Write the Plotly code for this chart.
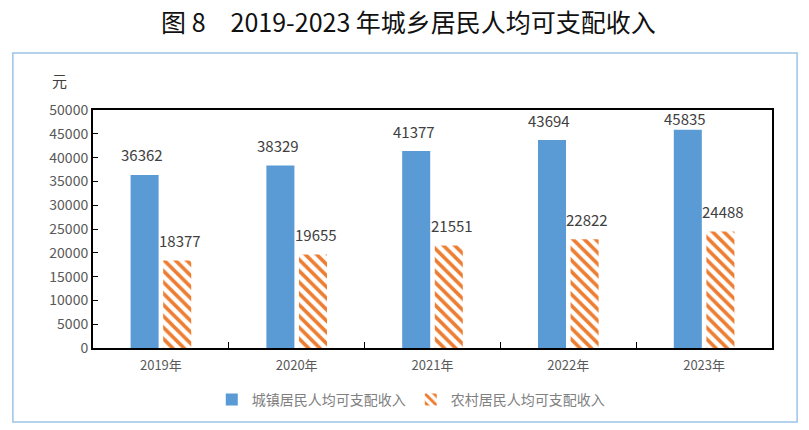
import plotly.graph_objects as go

# data
years = ["2019年", "2020年", "2021年", "2022年", "2023年"]
urban = [36362, 38329, 41377, 43694, 45835]
rural = [18377, 19655, 21551, 22822, 24488]
y_ticks = list(range(0, 50001, 5000))
y_max = 50000

blue = "#5B9BD5"
orange = "#ED7D31"
font_cn = "Noto Sans CJK SC"
plot_h = 238  # plot area height in px, used for label offsets

fig = go.Figure()

fig.add_trace(go.Bar(
    x=years, y=urban, name="城镇居民人均可支配收入",
    marker=dict(color=blue, line=dict(width=0)),
))
fig.add_trace(go.Bar(
    x=years, y=rural, name="农村居民人均可支配收入",
    marker=dict(color="white", line=dict(width=0),
                pattern=dict(shape="\\", fgcolor=orange, bgcolor="white",
                             fgopacity=1, size=8, solidity=0.45)),
))


def label_shift(v):
    # keep the label inside the plot frame, like the original
    room = (y_max - v) / y_max * plot_h
    return min(20, room - 8)


for i, yr in enumerate(years):
    fig.add_annotation(x=yr, y=urban[i], text=str(urban[i]), showarrow=False,
                       xshift=-19, yshift=label_shift(urban[i]),
                       font=dict(size=15, color="#404040"))
    fig.add_annotation(x=yr, y=rural[i], text=str(rural[i]), showarrow=False,
                       xshift=19, yshift=label_shift(rural[i]),
                       font=dict(size=15, color="#404040"))

# unit label
fig.add_annotation(xref="paper", yref="paper", x=-0.049, y=1.126, text="元",
                   xanchor="center", yanchor="middle",
                   showarrow=False, font=dict(size=15, color="#404040"))

# outer frame
fig.add_shape(type="rect", xref="paper", yref="paper",
              x0=-0.118, x1=1.037, y0=-0.311, y1=1.239,
              line=dict(color="#9DC3E6", width=1.5))

# page body adds 8px of margin, so the figure is a bit smaller than the window
fig.update_layout(
    width=801, height=422,
    margin=dict(l=85, r=37, t=102, b=82),
    paper_bgcolor="white", plot_bgcolor="white",
    barmode="group", bargap=0.52, bargroupgap=0.14,
    font=dict(family=font_cn, color="#595959"),
    title=dict(text="图 8　2019-2023 年城乡居民人均可支配收入",
               x=0.5, xanchor="center", y=0.965, yanchor="middle",
               font=dict(size=25, color="#111111", family=font_cn, weight="normal")),
    showlegend=True,
    legend=dict(orientation="h", x=0.468, xanchor="center", y=-0.218, yanchor="middle",
                font=dict(size=14, color="#808080"), itemwidth=30,
                bgcolor="rgba(0,0,0,0)"),
    xaxis=dict(showline=True, linecolor="black", linewidth=2, mirror=True,
               ticks="inside", tickson="boundaries", ticklen=6, tickcolor="black",
               ticklabelstandoff=4,
               tickfont=dict(size=13, color="#595959"), showgrid=False),
    yaxis=dict(range=[0, y_max], tickvals=y_ticks, ticktext=[str(t) for t in y_ticks],
               showline=True, linecolor="black",
               linewidth=2, mirror=True, ticks="inside", ticklen=5, tickcolor="black",
               tickfont=dict(size=14, color="#595959"), showgrid=False, zeroline=False),
)

fig.write_html("out.html")
